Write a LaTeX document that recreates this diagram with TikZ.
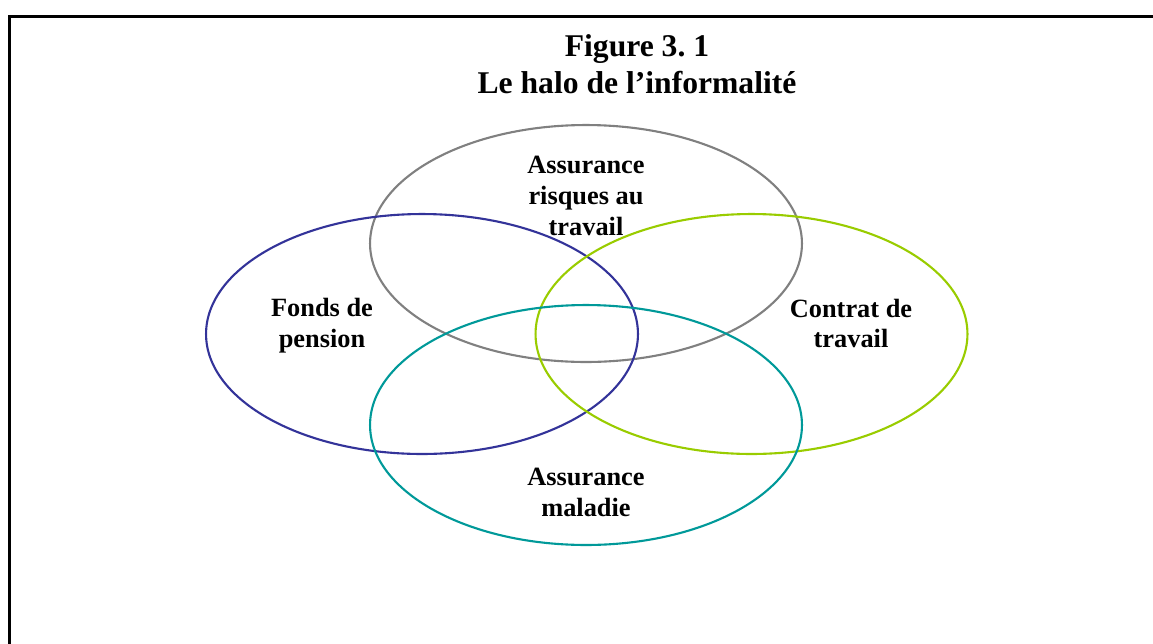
\documentclass[tikz,border=0pt]{standalone}
\usepackage{fontspec}
\setmainfont{Liberation Serif}
\usepackage{tikz}
\usetikzlibrary{shapes.geometric}
\definecolor{haloblue}{HTML}{333399}
\definecolor{halogray}{HTML}{808080}
\definecolor{halogreen}{HTML}{99CC00}
\definecolor{haloteal}{HTML}{009999}
\tikzstyle{halo} = [ellipse, draw, line width=1.2pt, inner sep=0pt,
    minimum width=8.64cm, minimum height=4.8cm]
\tikzstyle{lbl} = [align=center, font=\fontsize{15}{17.5}\selectfont\bfseries]
\frenchspacing

\begin{document}
\begin{tikzpicture}[x=0.02cm, y=-0.02cm]
    \useasboundingbox (0,0) rectangle (1153,643);
    % frame
    \draw[line width=1.5pt] (9.5,650) |- (1160,16.5);
    \node [align=center, font=\fontsize{18}{21}\selectfont\bfseries] (title) at (637,64)
        {Figure 3. 1\\Le halo de l'informalité};
    % the four sets
    \node [halo, draw=halogray, minimum height=4.74cm] (risques) at (586,243.5) {};
    \node [halo, draw=haloblue] (pension) at (422,334) {};
    \node [halo, draw=halogreen] (contrat) at (751.5,334) {};
    \node [halo, draw=haloteal] (maladie) at (586,425) {};
    % labels
    \node [lbl] (risqueslbl) at (586,196) {Assurance\\risques au\\travail};
    \node [lbl] (pensionlbl) at (322,326) {Fonds de\\pension};
    \node [lbl] (contratlbl) at (851,323.5) {Contrat de\\travail};
    \node [lbl] (maladielbl) at (586,492.5) {Assurance\\maladie};
\end{tikzpicture}
\end{document}
